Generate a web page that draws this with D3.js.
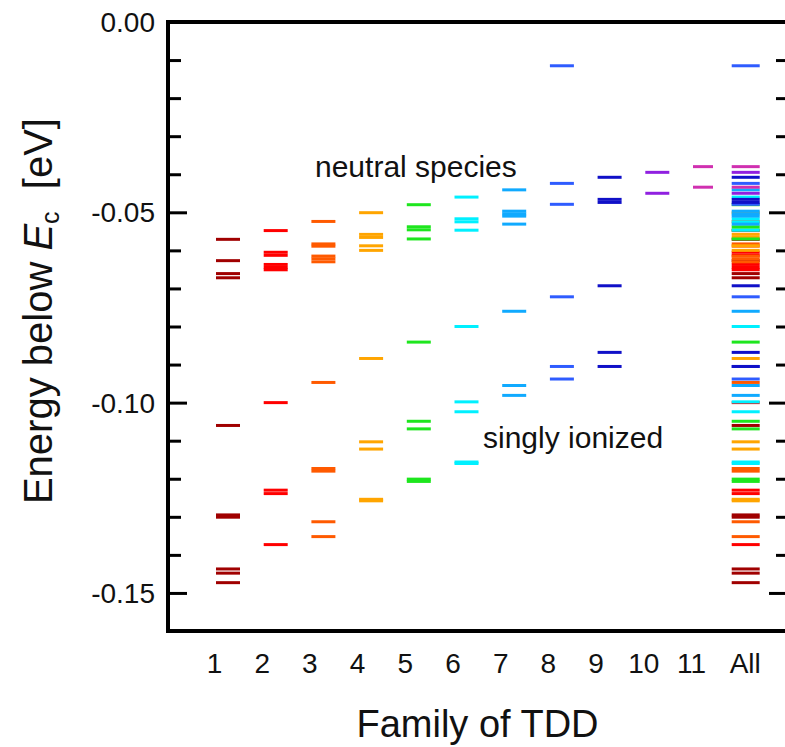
<!DOCTYPE html>
<html>
<head>
<meta charset="utf-8">
<script src="https://cdn.jsdelivr.net/npm/d3@7/dist/d3.min.js"></script>
<style>
  html, body { margin: 0; padding: 0; background: #fff; }
  svg { display: block; font-family: "Liberation Sans", Arial, sans-serif; }
</style>
</head>
<body>
<svg id="chart" width="785" height="747"></svg>
<script>
// ---------- data ----------
const categories = ["1","2","3","4","5","6","7","8","9","10","11","All"];
const families = ["1","2","3","4","5","6","7","8","9","10","11"];
const familyColors = ["#a00000","#ff0000","#ff5a00","#ffa500","#1ee61e","#00f0ff","#10aaff","#2f5cff","#1010c8","#9020e0","#d030b0"];

// energy levels (eV below Ec) per family
const fam1  = [-0.0571,-0.0627,-0.0661,-0.0672,-0.1060,-0.1295,-0.1301,-0.1437,-0.1448,-0.1473];
const fam2  = [-0.0548,-0.0605,-0.0613,-0.0637,-0.0645,-0.0651,-0.1000,-0.1230,-0.1239,-0.1373];
const fam3  = [-0.0524,-0.0583,-0.0589,-0.0615,-0.0622,-0.0630,-0.0947,-0.1173,-0.1180,-0.1313,-0.1352];
const fam4  = [-0.0501,-0.0558,-0.0566,-0.0588,-0.0600,-0.0884,-0.1103,-0.1122,-0.1254,-0.1258];
const fam5  = [-0.0480,-0.0538,-0.0546,-0.0570,-0.0841,-0.1049,-0.1069,-0.1201,-0.1207];
const fam6  = [-0.0460,-0.0517,-0.0525,-0.0547,-0.0800,-0.0998,-0.1024,-0.1156,-0.1160];
const fam7  = [-0.0441,-0.0497,-0.0504,-0.0510,-0.0531,-0.0760,-0.0955,-0.0981];
const fam8  = [-0.0115,-0.0424,-0.0479,-0.0722,-0.0905,-0.0938];
const fam9  = [-0.0408,-0.0466,-0.0474,-0.0693,-0.0868,-0.0905];
const fam10 = [-0.0395,-0.0450];
const fam11 = [-0.0380,-0.0434];
const levels = [fam1,fam2,fam3,fam4,fam5,fam6,fam7,fam8,fam9,fam10,fam11];

const yDomain = [-0.16, 0];
const yMajorTicks = [0, -0.05, -0.10, -0.15];
const yTickLabels = ["0.00","-0.05","-0.10","-0.15"];
const yMinorTicks = [-0.01,-0.02,-0.03,-0.04,-0.06,-0.07,-0.08,-0.09,-0.11,-0.12,-0.13,-0.14];
const labelNeutral = "neutral species";
const labelIonized = "singly ionized";
const xTitle = "Family of TDD";

// ---------- layout ----------
const svg = d3.select("#chart");
const pLeft = 168, pRight = 789, pTop = 22, pBottom = 631;

const y = d3.scaleLinear().domain(yDomain).range([pBottom, pTop]);
const x = d3.scalePoint().domain(categories).range([216, 740.7]);

// build segment records
const segs = [];
families.forEach((f, i) => {
  levels[i].forEach(v => segs.push({cat: f, v: v, color: familyColors[i]}));
});
const allSegs = [];
families.forEach((f, i) => {
  levels[i].forEach(v => allSegs.push({cat: "All", v: v, color: familyColors[i]}));
});

function segX1(d) { return d.cat === "All" ? x(d.cat) - 9 : x(d.cat); }
function segX2(d) {
  if (d.cat === "All") return x(d.cat) + 19;
  if (d.cat === "11") return x(d.cat) + 20;
  return x(d.cat) + 24;
}

// segments
svg.append("g").selectAll("line")
  .data(segs.concat(allSegs))
  .join("line")
  .attr("x1", segX1).attr("x2", segX2)
  .attr("y1", d => y(d.v)).attr("y2", d => y(d.v))
  .attr("stroke", d => d.color)
  .attr("stroke-width", 3);

// left axis ticks (inward)
const axisL = d3.axisRight(y).tickValues(yMajorTicks).tickSize(19).tickFormat("");
const gL = svg.append("g").attr("transform", `translate(${pLeft},0)`).call(axisL);
gL.select(".domain").remove();
gL.selectAll(".tick line").attr("stroke", "#000").attr("stroke-width", 3);
const axisLm = d3.axisRight(y).tickValues(yMinorTicks).tickSize(13).tickFormat("");
const gLm = svg.append("g").attr("transform", `translate(${pLeft},0)`).call(axisLm);
gLm.select(".domain").remove();
gLm.selectAll(".tick line").attr("stroke", "#000").attr("stroke-width", 3);

// right axis ticks (inward)
const axisR = d3.axisLeft(y).tickValues(yMajorTicks).tickSize(20).tickFormat("");
const gR = svg.append("g").attr("transform", `translate(${pRight},0)`).call(axisR);
gR.select(".domain").remove();
gR.selectAll(".tick line").attr("stroke", "#000").attr("stroke-width", 3);
const axisRm = d3.axisLeft(y).tickValues(yMinorTicks).tickSize(13).tickFormat("");
const gRm = svg.append("g").attr("transform", `translate(${pRight},0)`).call(axisRm);
gRm.select(".domain").remove();
gRm.selectAll(".tick line").attr("stroke", "#000").attr("stroke-width", 3);

// y tick labels
svg.append("g").selectAll("text")
  .data(yMajorTicks)
  .join("text")
  .attr("x", 155)
  .attr("y", d => y(d) + 10)
  .attr("text-anchor", "end")
  .attr("font-size", 28)
  .attr("fill", "#111")
  .text((d, i) => yTickLabels[i]);

// frame
svg.append("path")
  .attr("d", `M${pRight},${pTop} H${pLeft} V${pBottom} H${pRight}`)
  .attr("fill", "none")
  .attr("stroke", "#000")
  .attr("stroke-width", 4);
svg.append("line")
  .attr("x1", pRight).attr("x2", pRight).attr("y1", pTop).attr("y2", pBottom)
  .attr("stroke", "#000").attr("stroke-width", 4);

// x tick labels
svg.append("g").selectAll("text")
  .data(categories)
  .join("text")
  .attr("x", d => d === "All" ? x(d) + 4.5 : x(d) - 1.5)
  .attr("y", 673)
  .attr("text-anchor", "middle")
  .attr("font-size", 28)
  .attr("fill", "#111")
  .text(d => d);

// x title
svg.append("text")
  .attr("x", 477.5).attr("y", 737)
  .attr("text-anchor", "middle")
  .attr("font-size", 38)
  .attr("fill", "#111")
  .text(xTitle);

// y title
const yt = svg.append("text")
  .attr("transform", "translate(52,118) rotate(-90)")
  .attr("text-anchor", "end")
  .attr("font-size", 40)
  .attr("fill", "#111");
yt.append("tspan").text("Energy below ");
yt.append("tspan").attr("font-style", "italic").text("E");
yt.append("tspan").attr("font-size", 25).attr("dy", 7).text("c");
yt.append("tspan").attr("dy", -7).text("\u00a0 [eV]");

// annotations
svg.append("text")
  .attr("x", 315).attr("y", 177)
  .attr("font-size", 30).attr("fill", "#111")
  .text(labelNeutral);
svg.append("text")
  .attr("x", 483).attr("y", 448)
  .attr("font-size", 30).attr("fill", "#111")
  .text(labelIonized);
</script>
</body>
</html>
